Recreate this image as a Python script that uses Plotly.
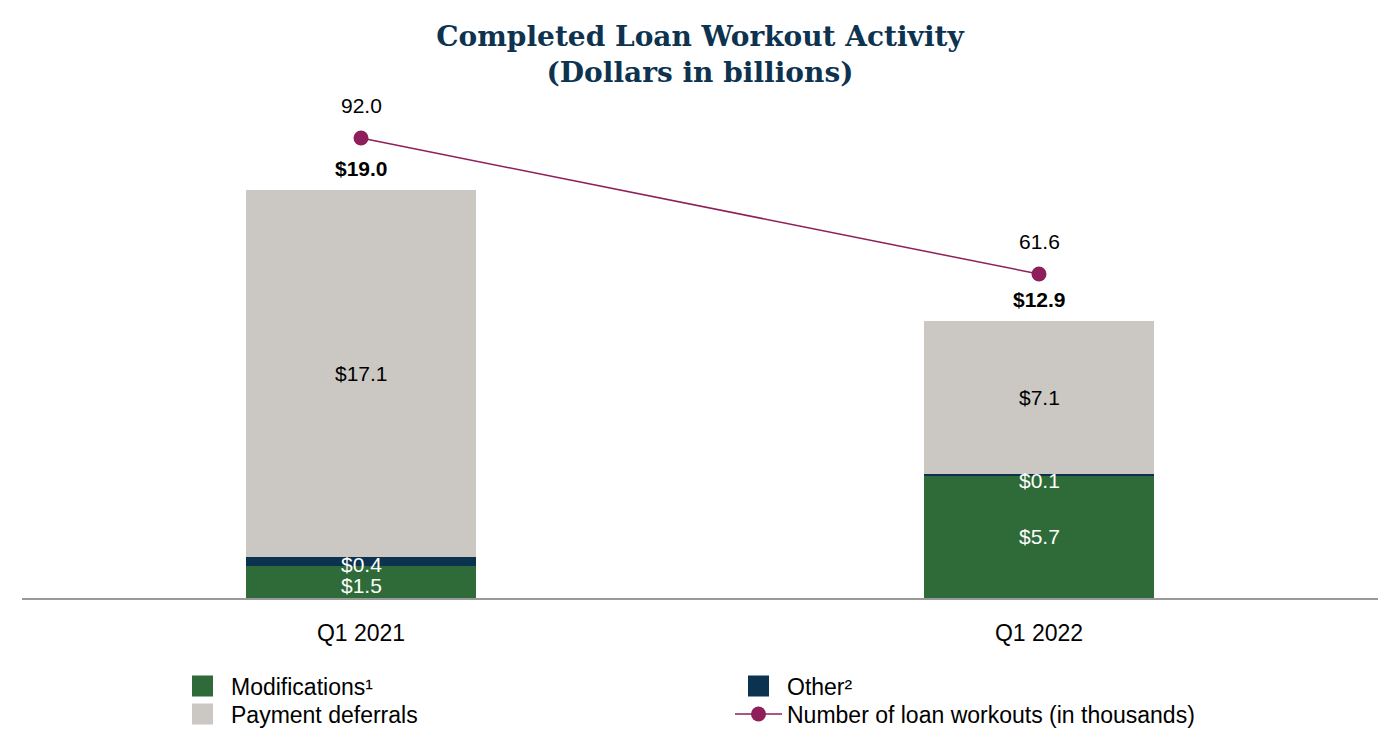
import plotly.graph_objects as go

categories = ["Q1 2021", "Q1 2022"]
modifications = [1.5, 5.7]
other = [0.4, 0.1]
deferrals = [17.1, 7.1]
totals = [19.0, 12.9]
workouts = [92.0, 61.6]

GREEN = "#2E6B38"
NAVY = "#0B3350"
GRAY = "#CBC8C3"
MAROON = "#8E1F5B"
FONT = "Arial, Liberation Sans, sans-serif"
LBL = 21

fig = go.Figure()
series = [("Modifications¹", modifications, GREEN, "legend"),
          ("Other²", other, NAVY, "legend"),
          ("Payment deferrals", deferrals, GRAY, "legend2")]
for name, vals, col, lg in series:
    fig.add_trace(go.Bar(x=categories, y=vals, name=name, showlegend=False,
                         marker=dict(color=col, line=dict(width=0)), width=0.34, yaxis="y"))
# legend-only entries with larger square swatches
for name, vals, col, lg in series:
    fig.add_trace(go.Scatter(x=[None], y=[None], name=name, mode="markers", legend=lg,
                             marker=dict(symbol="square", size=16, color=col,
                                         line=dict(color=col, width=5))))
fig.add_trace(go.Scatter(x=categories, y=workouts, name="Number of loan workouts (in thousands)",
                         mode="lines+markers", yaxis="y2", legend="legend2",
                         line=dict(color=MAROON, width=1.5),
                         marker=dict(color=MAROON, size=15)))

annotations = []
for i, c in enumerate(categories):
    base = 0
    for vals, col in ((modifications, "white"), (other, "white"), (deferrals, "black")):
        v = vals[i]
        mid = base + v / 2
        shift = 0
        if vals is other:
            shift = -3 if v >= 0.3 else -6
        if vals is modifications and v < 2:
            shift = -4
        annotations.append(dict(x=c, y=mid, xref="x", yref="y", text=f"${v:.1f}",
                                showarrow=False, yshift=shift,
                                font=dict(family=FONT, size=LBL, color=col)))
        base += v
    annotations.append(dict(x=c, y=totals[i], xref="x", yref="y", text=f"<b>${totals[i]:.1f}</b>",
                            showarrow=False, yshift=22,
                            font=dict(family=FONT, size=LBL, color="black")))
    annotations.append(dict(x=c, y=workouts[i], xref="x", yref="y2", text=f"{workouts[i]:.1f}",
                            showarrow=False, yshift=33,
                            font=dict(family=FONT, size=LBL, color="black")))

legend_common = dict(orientation="h", traceorder="normal", entrywidth=494, entrywidthmode="pixels",
                     itemwidth=47, x=(174 - 22) / 1356, xanchor="left", yanchor="middle",
                     font=dict(family=FONT, size=23, color="black"), bgcolor="rgba(0,0,0,0)")

fig.update_layout(
    width=1400, height=750,
    margin=dict(l=22, r=22, t=100, b=152, autoexpand=False),
    paper_bgcolor="white", plot_bgcolor="white",
    barmode="stack",
    title=dict(text="<b>Completed Loan Workout Activity<br>(Dollars in billions)</b>",
               x=0.5, xanchor="center", y=1 - 46 / 750, yanchor="middle", yref="container",
               font=dict(family="Georgia, DejaVu Serif, serif", size=28, color="#0D3350")),
    xaxis=dict(type="category", showline=True, linecolor="#9A9A9A", linewidth=2,
               ticks="", showgrid=False, zeroline=False, ticklabelstandoff=13,
               tickfont=dict(family=FONT, size=23, color="black")),
    yaxis=dict(range=[0, 23.2], visible=False, showgrid=False, zeroline=False),
    yaxis2=dict(range=[-10.8, 100.5], overlaying="y", side="right", visible=False,
                showgrid=False, zeroline=False),
    legend=dict(**legend_common, y=(598 - 686) / 498),
    legend2=dict(**legend_common, y=(598 - 714) / 498),
    annotations=annotations,
    showlegend=True,
)

fig.write_html("out.html")
